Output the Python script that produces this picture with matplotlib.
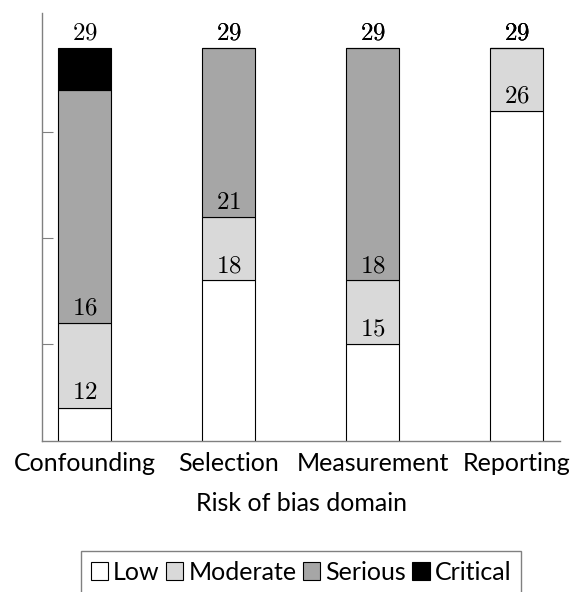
import numpy as np
import matplotlib
matplotlib.use('Agg')
import matplotlib.pyplot as plt

# dados: contagens por domínio e nível de risco de viés
dominios = ['Confounding', 'Selection', 'Measurement', 'Reporting']
niveis = ['Low', 'Moderate', 'Serious', 'Critical']
low = [12, 18, 15, 26]
moderate = [4, 3, 3, 3]
serious = [11, 8, 11, 0]
critical = [2, 0, 0, 0]
cores = ['white', '#d9d9d9', '#a6a6a6', 'black']

plt.rcParams['mathtext.fontset'] = 'cm'
plt.rcParams['font.family'] = ['Lato', 'DejaVu Sans']

fig = plt.figure(figsize=(5.71, 5.92), dpi=100)
ax = fig.add_axes([42 / 571, 1 - 441 / 592, 518 / 571, 428 / 592])

x = np.arange(len(dominios))
base = np.zeros(len(dominios))
for i, (serie, cor, nome) in enumerate(zip([low, moderate, serious, critical], cores, niveis)):
    ax.bar(x, serie, 0.37, bottom=base, color=cor, edgecolor='black',
           linewidth=0.8, label=nome, zorder=2 + i)
    base = base + np.array(serie)
    # rótulo com o valor acumulado no topo de cada segmento
    for xi, total in zip(x, base):
        ax.annotate(f'${int(total)}$', (xi, total), xytext=(0, 5.8),
                    textcoords='offset points', ha='center', va='baseline',
                    fontsize=18, zorder=10)

ax.set_xlim(-0.295, 3.30)
ax.set_ylim(10.42, 30.63)

cinza = '#808080'
for lado in ['top', 'right']:
    ax.spines[lado].set_visible(False)
for lado in ['left', 'bottom']:
    ax.spines[lado].set_color(cinza)
    ax.spines[lado].set_linewidth(1.0)

ax.set_yticks([15, 20, 25])
ax.set_yticklabels([])
ax.tick_params(axis='y', direction='in', length=8, color=cinza, width=0.8)
ax.set_xticks(x)
ax.set_xticklabels(dominios, fontsize=18)
ax.tick_params(axis='x', length=0, pad=8)
ax.set_xlabel('Risk of bias domain', fontsize=18, labelpad=12)

leg = fig.legend(loc='upper center', bbox_to_anchor=(301 / 571, 1 - 551 / 592),
                 ncol=4, fancybox=False, edgecolor=cinza, framealpha=1,
                 handlelength=0.7, handleheight=0.75, handletextpad=0.2,
                 columnspacing=0.25, borderpad=0.4, borderaxespad=0, fontsize=18)
leg.get_frame().set_linewidth(1.0)

fig.savefig('out.png', dpi=100)
